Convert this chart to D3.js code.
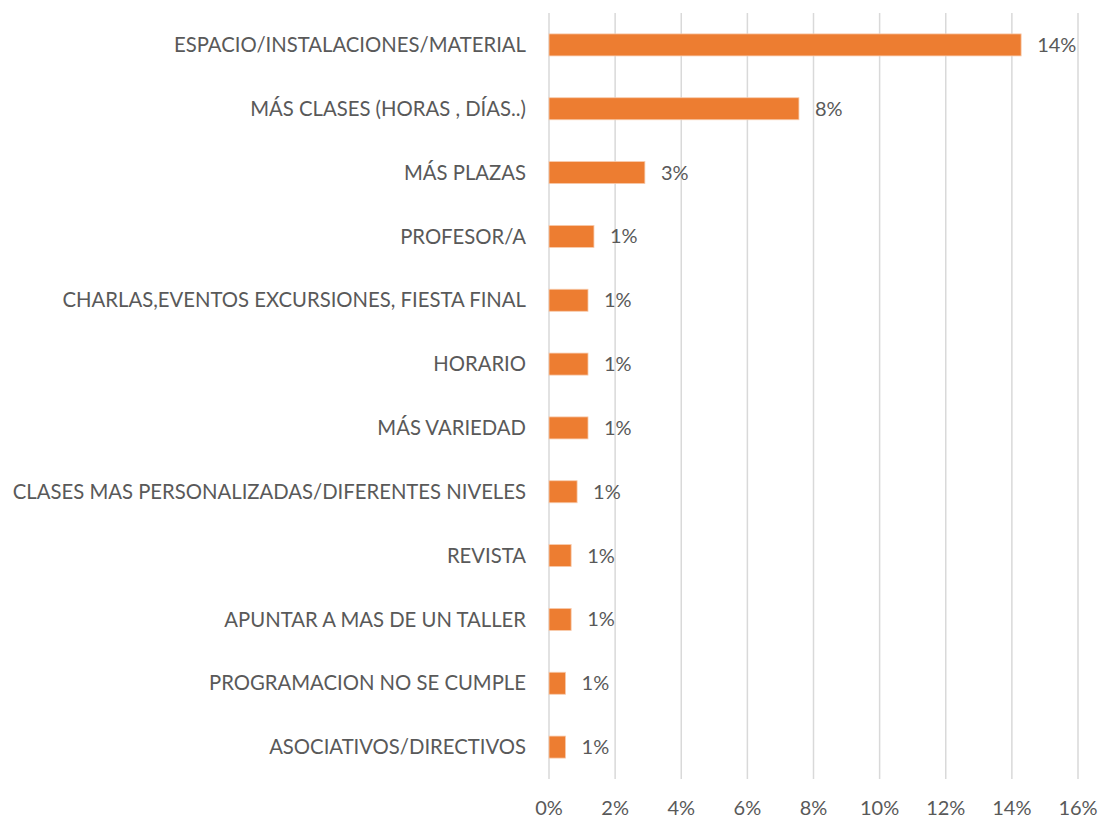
<!DOCTYPE html>
<html>
<head>
<meta charset="utf-8">
<script src="https://cdn.jsdelivr.net/npm/d3@7/dist/d3.min.js"></script>
<style>
body { margin: 0; background: #fff; }
text { font-family: 'Lato', 'Open Sans', sans-serif; fill: #595959; }
</style>
</head>
<body>
<svg></svg>
<script>

    // Data
    var categories = [
        'ESPACIO/INSTALACIONES/MATERIAL',
        'MÁS CLASES (HORAS , DÍAS..)',
        'MÁS PLAZAS',
        'PROFESOR/A',
        'CHARLAS,EVENTOS EXCURSIONES, FIESTA FINAL',
        'HORARIO',
        'MÁS VARIEDAD',
        'CLASES MAS PERSONALIZADAS/DIFERENTES NIVELES',
        'REVISTA',
        'APUNTAR A MAS DE UN TALLER',
        'PROGRAMACION NO SE CUMPLE',
        'ASOCIATIVOS/DIRECTIVOS'
    ];
    var values = [0.1428, 0.0756, 0.029, 0.0136, 0.0118, 0.0118, 0.0118, 0.0085, 0.0067, 0.0067, 0.005, 0.005];
    var tickValues = [0, 0.02, 0.04, 0.06, 0.08, 0.10, 0.12, 0.14, 0.16];

    // Layout
    var vWidth = 1102;
    var vHeight = 820;
    var pLeft = 549, pRight = 1078, pTop = 13, pBottom = 779;

    var svg = d3.select('svg')
        .attr('width', vWidth)
        .attr('height', vHeight);

    var x = d3.scaleLinear().domain([0, 0.16]).range([pLeft, pRight]);
    var y = d3.scaleBand().domain(categories).range([pTop, pBottom]).padding(0);
    var barH = y.bandwidth() * 0.345;

    // Gridlines
    svg.append('g').selectAll('line')
        .data(tickValues)
        .enter().append('line')
        .attr('x1', function (d) { return x(d); })
        .attr('x2', function (d) { return x(d); })
        .attr('y1', pTop)
        .attr('y2', pBottom)
        .style('stroke', '#d9d9d9')
        .style('stroke-width', 1.5);

    // Tick labels
    svg.append('g').selectAll('text')
        .data(tickValues)
        .enter().append('text')
        .attr('x', function (d) { return x(d); })
        .attr('y', 815)
        .attr('text-anchor', 'middle')
        .style('font-size', '20px')
        .text(function (d) { return Math.round(d * 100) + '%'; });

    // Bars
    svg.append('g').selectAll('rect')
        .data(values)
        .enter().append('rect')
        .attr('x', x(0))
        .attr('y', function (d, i) { return y(categories[i]) + (y.bandwidth() - barH) / 2; })
        .attr('width', function (d) { return x(d) - x(0); })
        .attr('height', barH)
        .style('fill', '#ed7d31')
        .style('stroke', '#f8cbad')
        .style('stroke-width', 0.8);

    // Category labels
    svg.append('g').selectAll('text')
        .data(categories)
        .enter().append('text')
        .attr('x', 526)
        .attr('y', function (d) { return y(d) + y.bandwidth() / 2; })
        .attr('dy', '0.35em')
        .attr('text-anchor', 'end')
        .style('font-size', '20.3px')
        .text(function (d) { return d; });

    // Value labels
    svg.append('g').selectAll('text')
        .data(values)
        .enter().append('text')
        .attr('x', function (d) { return x(d) + 16; })
        .attr('y', function (d, i) { return y(categories[i]) + y.bandwidth() / 2; })
        .attr('dy', '0.35em')
        .style('font-size', '20px')
        .text(function (d) { return Math.max(1, Math.round(d * 100)) + '%'; });

</script>
</body>
</html>
